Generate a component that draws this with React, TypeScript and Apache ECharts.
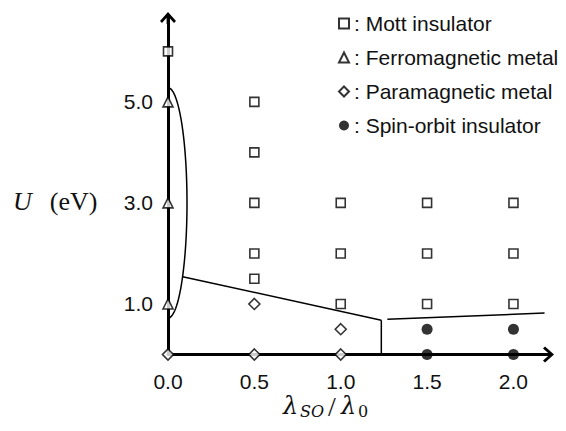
import React, { useEffect, useRef } from "react";
import * as echarts from "echarts";

// ---- data ----
const mottInsulator: number[][] = [
  [0, 6], [0.5, 5], [0.5, 4], [0.5, 3], [0.5, 2], [0.5, 1.5],
  [1, 3], [1, 2], [1, 1],
  [1.5, 3], [1.5, 2], [1.5, 1],
  [2, 3], [2, 2], [2, 1],
];
const ferroMetal: number[][] = [[0, 5], [0, 3], [0, 1]];
const paraMetal: number[][] = [[0, 0], [0.5, 0], [1, 0], [0.5, 1], [1, 0.5]];
const spinOrbit: number[][] = [[1.5, 0.5], [2, 0.5], [1.5, 0], [2, 0]];

const boundaryA: number[][] = [[0.085, 1.54], [1.235, 0.68]];
const boundaryB: number[][] = [[1.235, 0.68], [1.235, 0]];
const boundaryC: number[][] = [[1.27, 0.7], [2.18, 0.82]];
// half-ellipse around the ferromagnetic points: [cx, cy, rx, ry]
const ferroRegion: number[][] = [[0, 3.0, 0.11, 2.28]];

const yLabelValues = [1, 3, 5];
const seriesNames = [
  "Mott insulator",
  "Ferromagnetic metal",
  "Paramagnetic metal",
  "Spin-orbit insulator",
];

const SANS = "'Liberation Sans', Arial, Helvetica, sans-serif";
const SERIF = "'DejaVu Serif', 'Liberation Serif', serif";
const SERIF2 = "'Liberation Serif', 'Times New Roman', serif";
const ARROW = "path://M0,9 L8,0 L16,9 L14,11 L9.4,5.8 L9.4,12 L6.6,12 L6.6,5.8 L2,11 Z";

export default function App() {
  const ref = useRef<HTMLDivElement>(null);
  useEffect(() => {
    if (!ref.current) return;
    const chart = echarts.init(ref.current, undefined, { renderer: "svg" });
    const hollow = { color: "#fff", borderColor: "#000", borderWidth: 1.6 };
    const t = (text: string, x: number, y: number, size: number, family: string, italic: boolean) => ({
      type: "text",
      x,
      y,
      style: {
        text,
        fontFamily: family,
        fontSize: size,
        fontStyle: italic ? "italic" : "normal",
        fill: "#111",
        align: "left",
        verticalAlign: "bottom",
      },
    });
    chart.setOption({
      animation: false,
      backgroundColor: "#fff",
      grid: { left: 168, right: 18, top: 18, bottom: 76.5, containLabel: false },
      legend: {
        data: seriesNames,
        orient: "vertical",
        left: 333,
        top: 8,
        itemWidth: 10,
        itemHeight: 10,
        itemGap: 13,
        formatter: (n: string) => ": " + n,
        textStyle: { fontFamily: SANS, fontSize: 21, color: "#111" },
        selectedMode: false,
      },
      xAxis: {
        type: "value",
        min: 0,
        max: 2.2,
        interval: 0.5,
        splitLine: { show: false },
        axisTick: { show: false },
        axisLine: {
          lineStyle: { color: "#000", width: 3 },
          symbol: ["none", ARROW],
          symbolSize: [16, 12],
        },
        axisLabel: {
          margin: 16,
          fontFamily: SANS,
          fontSize: 21,
          color: "#111",
          showMaxLabel: false,
          formatter: (v: number) => (v <= 2.05 ? v.toFixed(1) : ""),
        },
      },
      yAxis: {
        type: "value",
        min: 0,
        max: 6.66,
        interval: 1,
        splitLine: { show: false },
        axisTick: { show: false },
        axisLine: {
          lineStyle: { color: "#000", width: 3 },
          symbol: ["none", ARROW],
          symbolSize: [16, 12],
        },
        axisLabel: {
          margin: 15,
          fontFamily: SANS,
          fontSize: 21,
          color: "#111",
          showMaxLabel: false,
          formatter: (v: number) =>
            yLabelValues.some((t) => Math.abs(t - v) < 1e-6) ? v.toFixed(1) : "",
        },
      },
      graphic: [
        {
          type: "text",
          left: 13,
          top: 188,
          style: {
            text: "{i|U}{n|(eV)}",
            rich: {
              i: { fontFamily: SERIF2, fontStyle: "italic", fontSize: 26, fill: "#111", padding: [0, 18, 0, 0] },
              n: { fontFamily: SERIF2, fontSize: 26, fill: "#111" },
            },
          },
        },
        t("λ", 283, 418, 24, SERIF, true),
        t("SO", 300, 419.5, 16, SERIF, true),
        t("/", 328, 420, 28, SERIF2, false),
        t("λ", 341, 418, 24, SERIF, true),
        t("0", 358, 419.5, 16, SERIF, false),
      ],
      series: [
        {
          type: "line",
          data: boundaryA,
          symbol: "none",
          lineStyle: { color: "#000", width: 1.5 },
          z: 1,
        },
        {
          type: "line",
          data: boundaryB,
          symbol: "none",
          lineStyle: { color: "#000", width: 1.5 },
          z: 1,
        },
        {
          type: "line",
          data: boundaryC,
          symbol: "none",
          lineStyle: { color: "#000", width: 1.5 },
          z: 1,
        },
        {
          type: "custom",
          data: ferroRegion,
          z: 1,
          renderItem: (params: any, api: any) => {
            const cx = api.value(0);
            const cy = api.value(1);
            const rx = api.value(2);
            const ry = api.value(3);
            const c = api.coord([cx, cy]);
            const r = api.coord([cx + rx, cy + ry]);
            const a = r[0] - c[0];
            const b = c[1] - r[1];
            const pts: number[][] = [];
            const n = 60;
            for (let k = 0; k <= n; k++) {
              const ang = -Math.PI / 2 + (Math.PI * k) / n;
              pts.push([c[0] + a * Math.cos(ang), c[1] + b * Math.sin(ang)]);
            }
            return {
              type: "polyline",
              shape: { points: pts },
              style: { stroke: "#000", fill: "none", lineWidth: 1.5 },
            };
          },
        },
        {
          name: seriesNames[0],
          type: "scatter",
          symbol: "rect",
          symbolSize: 9,
          data: mottInsulator,
          itemStyle: hollow,
          z: 3,
        },
        {
          name: seriesNames[1],
          type: "scatter",
          symbol: "triangle",
          symbolSize: 10,
          data: ferroMetal,
          itemStyle: hollow,
          z: 3,
        },
        {
          name: seriesNames[2],
          type: "scatter",
          symbol: "diamond",
          symbolSize: 11,
          data: paraMetal,
          itemStyle: hollow,
          z: 3,
        },
        {
          name: seriesNames[3],
          type: "scatter",
          symbol: "circle",
          symbolSize: 11,
          data: spinOrbit,
          itemStyle: { color: "#000" },
          z: 3,
        },
      ],
    });
    return () => chart.dispose();
  }, []);
  return (
    <div
      ref={ref}
      style={{ position: "fixed", left: 0, top: 0, width: 566, height: 431, background: "#fff" }}
    />
  );
}
